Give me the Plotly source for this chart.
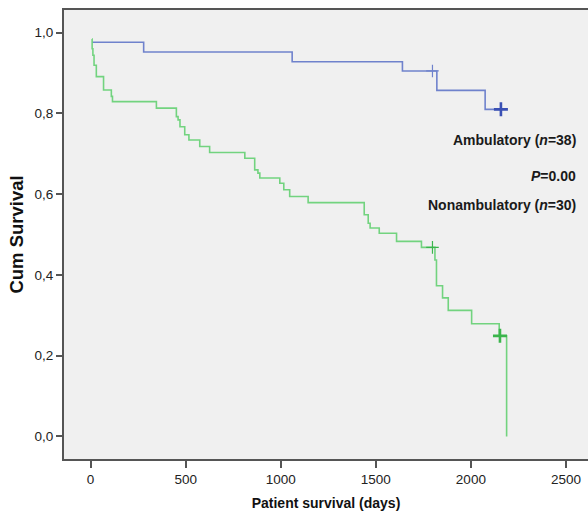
import plotly.graph_objects as go

# Ambulatory (n=38) – step times (days) and survival after each step
amb_days = [7, 279, 1060, 1640, 1821, 2075, 2158]
amb_surv = [0.976, 0.952, 0.928, 0.905, 0.857, 0.810, 0.810]
amb_cens_days = [1798, 2158]
amb_cens_surv = [0.905, 0.810]

# Nonambulatory (n=30)
non_days = [7, 8, 12, 18, 30, 68, 109, 115, 346, 451, 460, 470, 495, 517, 574, 626,
            811, 863, 880, 890, 995, 1016, 1047, 1144, 1439, 1460, 1470, 1518, 1609,
            1740, 1811, 1819, 1851, 1881, 2004, 2149, 2188]
non_surv = [0.984, 0.960, 0.944, 0.919, 0.891, 0.858, 0.842, 0.829, 0.813, 0.792, 0.784,
            0.767, 0.747, 0.734, 0.718, 0.703, 0.689, 0.660, 0.652, 0.640, 0.627, 0.611,
            0.594, 0.579, 0.549, 0.528, 0.516, 0.503, 0.483, 0.468, 0.437, 0.373, 0.343,
            0.312, 0.279, 0.249, 0.0]
non_cens_days = [1798, 2153]
non_cens_surv = [0.468, 0.249]

x_ticks = [0, 500, 1000, 1500, 2000, 2500]
y_ticks = [0.0, 0.2, 0.4, 0.6, 0.8, 1.0]

blue = "#6f82cc"
blue_dark = "#3a50b4"
green = "#72d37f"
green_dark = "#3bb54c"

fig = go.Figure()
fig.add_trace(go.Scatter(x=amb_days, y=amb_surv, mode="lines", line_shape="hv",
                         line=dict(color=blue, width=1.6), showlegend=False, hoverinfo="skip"))
fig.add_trace(go.Scatter(x=non_days, y=non_surv, mode="lines", line_shape="hv",
                         line=dict(color=green, width=1.6), showlegend=False, hoverinfo="skip"))
# thin censor ticks
fig.add_trace(go.Scatter(x=amb_cens_days[:1], y=amb_cens_surv[:1], mode="markers",
                         marker=dict(symbol="cross-thin", size=9, line=dict(color=blue, width=1.2)),
                         showlegend=False, hoverinfo="skip"))
fig.add_trace(go.Scatter(x=non_cens_days[:1], y=non_cens_surv[:1], mode="markers",
                         marker=dict(symbol="cross-thin", size=9, line=dict(color=green_dark, width=1.2)),
                         showlegend=False, hoverinfo="skip"))
# bold end censors
fig.add_trace(go.Scatter(x=amb_cens_days[1:], y=amb_cens_surv[1:], mode="markers",
                         marker=dict(symbol="cross-thin", size=10, line=dict(color=blue_dark, width=2.6)),
                         showlegend=False, hoverinfo="skip"))
fig.add_trace(go.Scatter(x=non_cens_days[1:], y=non_cens_surv[1:], mode="markers",
                         marker=dict(symbol="cross-thin", size=10, line=dict(color=green_dark, width=2.6)),
                         showlegend=False, hoverinfo="skip"))

ann_font = dict(family="Liberation Sans, Arial, sans-serif", size=14, color="#1a1a1a")
for txt, yy in [("<b>Ambulatory (<i>n</i>=38)</b>", 0.733),
                ("<b><i>P</i>=0.00</b>", 0.645),
                ("<b>Nonambulatory (<i>n</i>=30)</b>", 0.573)]:
    fig.add_annotation(x=0.98, xref="paper", y=yy, yref="y", text=txt, showarrow=False,
                       xanchor="right", yanchor="middle", font=ann_font)

fig.update_layout(
    width=588, height=512,
    margin=dict(l=64, r=0, t=10, b=53),
    paper_bgcolor="white", plot_bgcolor="#f0f0f0",
    separators=", ",
    font=dict(family="Liberation Sans, Arial, sans-serif", size=13.5, color="#222"),
    xaxis=dict(range=[-140, 2616], tickvals=x_ticks, showgrid=False, zeroline=False,
               showline=True, linecolor="#555", linewidth=2, mirror=True,
               ticks="outside", ticklen=7, tickwidth=2, tickcolor="#555",
               tickfont=dict(size=13.5, color="#222"),
               title=dict(text="<b>Patient survival (days)</b>", font=dict(size=14, color="#111"),
                          standoff=12)),
    yaxis=dict(range=[-0.056, 1.056], tickvals=y_ticks, tickformat=".1f", showgrid=False,
               zeroline=False, showline=True, linecolor="#555", linewidth=2,
               ticks="outside", ticklen=6, tickwidth=2, tickcolor="#555",
               tickfont=dict(size=13.5, color="#222"),
               title=dict(text="<b>Cum Survival</b>", font=dict(size=18.5, color="#111"),
                          standoff=6)),
)

fig.write_html("out.html", config={"displayModeBar": False},
               post_script="document.body.style.margin='0';document.body.style.overflow='hidden';")
